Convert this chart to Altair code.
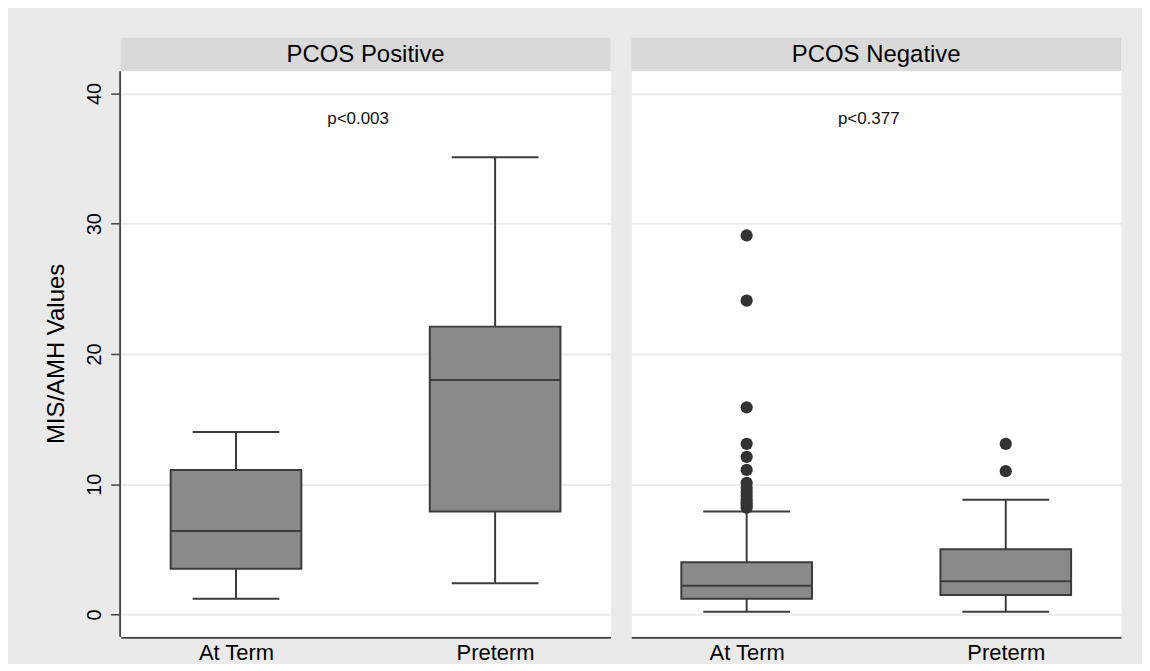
import altair as alt
import pandas as pd

groups = ["PCOS Positive", "PCOS Negative"]
cats = ["At Term", "Preterm"]

# box summary statistics
box_group = ["PCOS Positive", "PCOS Positive", "PCOS Negative", "PCOS Negative"]
box_cat = ["At Term", "Preterm", "At Term", "Preterm"]
lower = [1.2, 2.4, 0.2, 0.2]
q1 = [3.5, 7.9, 1.2, 1.5]
median = [6.4, 18.0, 2.2, 2.55]
q3 = [11.1, 22.1, 4.0, 5.0]
upper = [14.0, 35.1, 7.9, 8.8]

# outliers
out_group = ["PCOS Negative"] * 14 + ["PCOS Negative"] * 2
out_cat = ["At Term"] * 14 + ["Preterm"] * 2
out_value = [29.1, 24.1, 15.9, 13.1, 12.1, 11.1, 10.1, 9.7, 9.4, 9.1, 8.8, 8.6, 8.4, 8.2,
             13.1, 11.0]

# p-value annotations
p_group = ["PCOS Positive", "PCOS Negative"]
p_text = ["p<0.003", "p<0.377"]

box_df = pd.DataFrame({"kind": "box", "group": box_group, "cat": box_cat,
                       "lower": lower, "q1": q1, "median": median, "q3": q3, "upper": upper})
out_df = pd.DataFrame({"kind": "out", "group": out_group, "cat": out_cat, "value": out_value})
p_df = pd.DataFrame({"kind": "p", "group": p_group, "ptext": p_text})
data = pd.concat([box_df, out_df, p_df], ignore_index=True)

W = 491
H = 567
FONT = "Liberation Sans"
LINE = "#3c3c3c"

xenc = alt.X("cat:N", sort=cats,
             scale=alt.Scale(type="point", padding=0.445),
             axis=alt.Axis(title=None, labelAngle=0, ticks=False, tickSize=0, domain=True,
                           domainColor="#444444", domainWidth=2, labelFontSize=22,
                           labelColor="#000000", labelPadding=5, labelFont=FONT, grid=False))
yscale = alt.Scale(domain=[-1.67, 41.75], nice=False, zero=False)
yaxis = alt.Axis(title="MIS/AMH Values", values=[0, 10, 20, 30, 40], labelAngle=-90,
                 labelFontSize=20, labelColor="#000000", labelFont=FONT, labelPadding=6,
                 tickSize=9, tickColor="#444444", tickWidth=1.5,
                 domainColor="#444444", domainWidth=2,
                 grid=True, gridColor="#ececec", gridWidth=2,
                 titleFontSize=24, titleFont=FONT, titleFontWeight="normal",
                 titleColor="#000000", titlePadding=16)

base = alt.Chart()
boxes = base.transform_filter(alt.datum.kind == "box")

whisk = boxes.mark_rule(color=LINE, strokeWidth=2).encode(
    x=xenc, y=alt.Y("lower:Q", scale=yscale, axis=yaxis), y2="upper:Q")
box = boxes.mark_bar(size=131, fill="#8a8a8a", stroke=LINE, strokeWidth=2).encode(
    x=xenc, y=alt.Y("q1:Q"), y2="q3:Q")
med = boxes.mark_tick(size=131, thickness=2, color=LINE, opacity=1).encode(
    x=xenc, y=alt.Y("median:Q"))
cap_lo = boxes.mark_tick(size=87, thickness=2, color=LINE, opacity=1).encode(
    x=xenc, y=alt.Y("lower:Q"))
cap_hi = boxes.mark_tick(size=87, thickness=2, color=LINE, opacity=1).encode(
    x=xenc, y=alt.Y("upper:Q"))
outl = base.transform_filter(alt.datum.kind == "out").mark_circle(
    size=150, color="#333333", opacity=1).encode(x=xenc, y=alt.Y("value:Q"))
ptxt = base.transform_filter(alt.datum.kind == "p").mark_text(
    fontSize=17, font=FONT, color="#111111").encode(
    x=alt.value(238), y=alt.value(48), text="ptext:N")
strip = base.transform_filter(alt.datum.kind == "p").mark_rect(
    color="#d9d9d9").encode(x=alt.value(0), x2=alt.value(W), y=alt.value(-33), y2=alt.value(0))
strip_txt = base.transform_filter(alt.datum.kind == "p").mark_text(
    fontSize=24, font=FONT, color="#000000", baseline="middle").encode(
    x=alt.value(W / 2), y=alt.value(-16), text="group:N")

layered = alt.layer(whisk, box, med, cap_lo, cap_hi, outl, ptxt, strip, strip_txt,
                    data=data).properties(width=W, height=H)

chart = layered.facet(
    column=alt.Column("group:N", sort=groups, title=None,
                      header=alt.Header(labels=False, title=None)),
    spacing=19,
).properties(
    padding={"left": 37, "top": 28, "right": 20, "bottom": 0},
    background="#eaeaea",
).configure_view(stroke="transparent", fill="#ffffff")

chart.save("out.html", embed_options={"renderer": "svg", "actions": False})
